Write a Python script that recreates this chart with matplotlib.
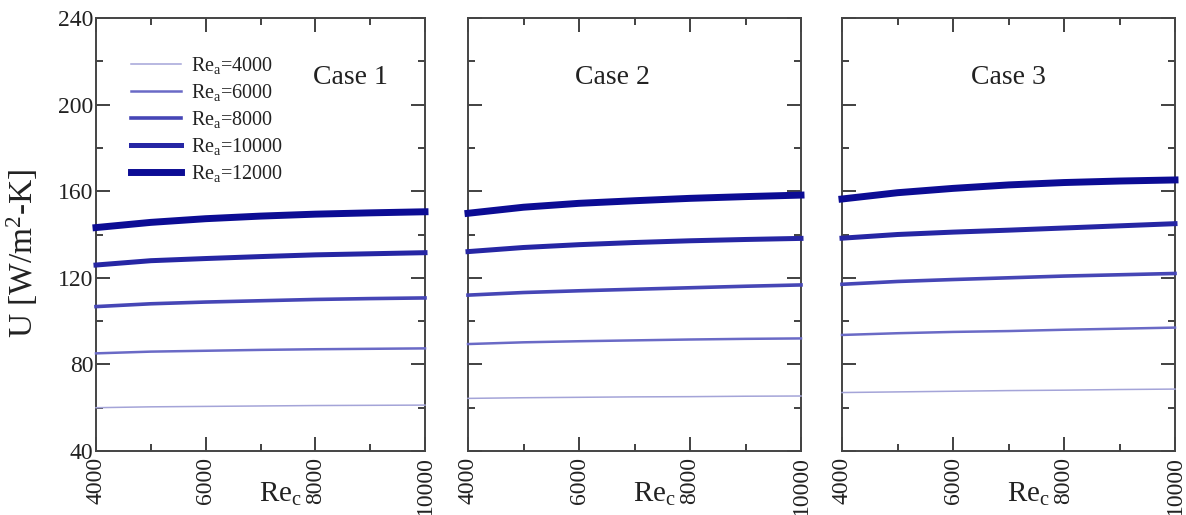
import matplotlib
matplotlib.use("Agg")
import matplotlib.pyplot as plt
from matplotlib.ticker import MultipleLocator

plt.rcParams['font.family'] = ['Liberation Serif', 'DejaVu Serif']
plt.rcParams['mathtext.fontset'] = 'custom'
plt.rcParams['mathtext.rm'] = 'Liberation Serif'
plt.rcParams['mathtext.it'] = 'Liberation Serif'

re_c = [4000, 5000, 6000, 7000, 8000, 9000, 10000]
re_a = [4000, 6000, 8000, 10000, 12000]
cases = ["Case 1", "Case 2", "Case 3"]

case1 = {
    4000: [60.0, 60.4, 60.6, 60.8, 61.0, 61.1, 61.2],
    6000: [85.1, 85.9, 86.3, 86.7, 87.0, 87.2, 87.4],
    8000: [106.7, 108.0, 108.8, 109.4, 110.0, 110.4, 110.7],
    10000: [125.9, 127.9, 128.9, 129.8, 130.6, 131.1, 131.6],
    12000: [143.2, 145.6, 147.3, 148.5, 149.4, 150.0, 150.5],
}
case2 = {
    4000: [64.3, 64.6, 64.8, 65.0, 65.1, 65.3, 65.4],
    6000: [89.4, 90.2, 90.7, 91.1, 91.5, 91.8, 92.0],
    8000: [112.0, 113.2, 114.0, 114.7, 115.4, 116.1, 116.7],
    10000: [132.1, 134.0, 135.3, 136.3, 137.1, 137.7, 138.2],
    12000: [149.8, 152.6, 154.4, 155.6, 156.7, 157.5, 158.2],
}
case3 = {
    4000: [67.0, 67.3, 67.6, 67.9, 68.1, 68.4, 68.6],
    6000: [93.6, 94.4, 95.0, 95.4, 96.0, 96.5, 97.0],
    8000: [117.0, 118.3, 119.2, 120.0, 120.8, 121.4, 122.0],
    10000: [138.3, 140.0, 141.1, 142.0, 143.0, 144.0, 145.0],
    12000: [156.4, 159.3, 161.3, 162.9, 164.0, 164.7, 165.2],
}
case_data = [case1, case2, case3]

colors = {4000: '#a4a4d8', 6000: '#6a6ac6', 8000: '#4646b6', 10000: '#2626a4', 12000: '#0c0c94'}
widths = {4000: 1.1, 6000: 1.8, 8000: 2.6, 10000: 3.6, 12000: 5.0}

fig = plt.figure(figsize=(11.86, 5.15), dpi=100)
W, H = 1186, 515
lefts = [96, 468, 842]
widths_px = [329, 333, 333]
bottom_px, top_px = 451, 18

axes = []
for i in range(3):
    ax = fig.add_axes([lefts[i] / W, (H - bottom_px) / H, widths_px[i] / W, (bottom_px - top_px) / H])
    axes.append(ax)
    for ra in re_a:
        ax.plot(re_c, case_data[i][ra], color=colors[ra], lw=widths[ra],
                label=r'Re$_{\mathrm{a}}$=%d' % ra, clip_on=False, zorder=3)
    ax.set_xlim(4000, 10000)
    ax.set_ylim(40, 240)
    ax.xaxis.set_major_locator(MultipleLocator(2000))
    ax.xaxis.set_minor_locator(MultipleLocator(1000))
    ax.yaxis.set_major_locator(MultipleLocator(40))
    ax.yaxis.set_minor_locator(MultipleLocator(20))
    ax.tick_params(which='both', direction='in', top=True, right=True, colors='#333333', width=1.3)
    ax.tick_params(which='major', length=10)
    ax.tick_params(which='minor', length=5)
    ax.tick_params(axis='x', labelrotation=90, labelsize=17, pad=4, labelcolor='#222222')
    ax.tick_params(axis='y', labelsize=17, pad=2, labelcolor='#222222')
    for lab in ax.get_xticklabels():
        lab.set_verticalalignment('top')
    for s in ax.spines.values():
        s.set_color('#444444')
        s.set_linewidth(1.4)
    if i > 0:
        ax.tick_params(axis='y', labelleft=False)
    ax.text(0.56, -0.1, r'Re$_{\mathrm{c}}$', transform=ax.transAxes, fontsize=21,
            ha='center', va='center', color='#222222')

axes[0].set_ylabel(r'U [W/m$^{2}$-K]', fontsize=24, color='#222222')
axes[0].yaxis.set_label_coords(-0.17, 0.455)

case_pos = [(350, 77), (612, 77), (1008, 78)]
for i, (cx, cy) in enumerate(case_pos):
    fig.text(cx / W, 1 - cy / H, cases[i], fontsize=20, ha='center', va='center', color='#222222')

leg = axes[0].legend(loc='upper left', bbox_to_anchor=(0.105, 0.915), frameon=False,
                     fontsize=14.5, handlelength=2.5, labelspacing=0.3, borderpad=0,
                     borderaxespad=0, handletextpad=0.5)
for t in leg.get_texts():
    t.set_color('#222222')

fig.savefig('out.png', dpi=100)
